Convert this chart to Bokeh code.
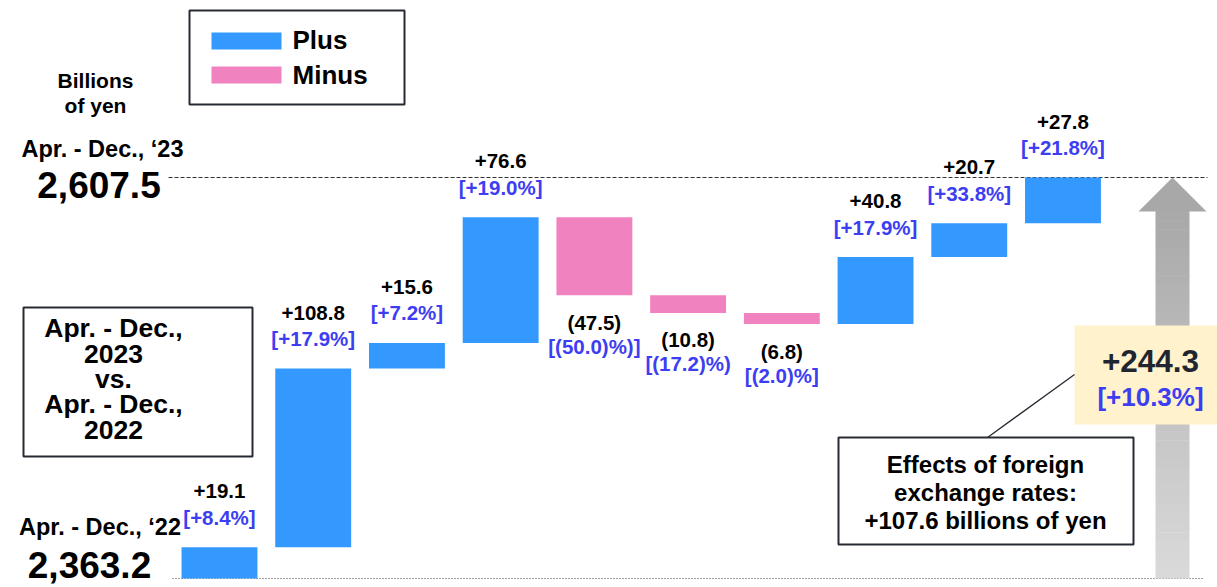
from bokeh.plotting import figure
from bokeh.models import Range1d, Label, ColumnDataSource
from bokeh.core.properties import value
from bokeh.embed import file_html
from bokeh.resources import INLINE

# ---------------- data ----------------
START_LABEL = "Apr. - Dec., \u201822"
END_LABEL = "Apr. - Dec., \u201823"
START_VALUE = 2363.2
CHANGES = [19.1, 108.8, 15.6, 76.6, -47.5, -10.8, -6.8, 40.8, 20.7, 27.8]
PCT_LABELS = ["[+8.4%]", "[+17.9%]", "[+7.2%]", "[+19.0%]", "[(50.0)%)]",
              "[(17.2)%)", "[(2.0)%]", "[+17.9%]", "[+33.8%]", "[+21.8%]"]
FX_EFFECT = 107.6
LEGEND_LABELS = ["Plus", "Minus"]
UNIT_LABEL = ["Billions", "of yen"]
COMPARE_LABEL = ["Apr. - Dec.,", "2023", "vs.", "Apr. - Dec.,", "2022"]

# ---------------- styles ----------------
BLUE = "#3399ff"
PINK = "#f082c0"
TXT_BLUE = "#3d3df2"
DARK = "#262b33"
FONT = "Liberation Sans"

W, H = 1217, 587
KX = 93.72          # px per category
KY = 1.6414         # px per billion yen

def vx(rx):
    return (rx - 219.0) / KX

def vy(ry):
    return 2607.5 - (ry - 177.0) / KY

XL, XR = vx(0), vx(W)
YT, YB = vy(0), vy(H)

# ---------------- derived ----------------
idx = list(range(len(CHANGES)))
bottoms, tops, colors, vlabels = [], [], [], []
cum = START_VALUE
for c in CHANGES:
    new = cum + c
    bottoms.append(min(cum, new))
    tops.append(max(cum, new))
    colors.append(BLUE if c >= 0 else PINK)
    vlabels.append(f"+{c:.1f}" if c >= 0 else f"({-c:.1f})")
    cum = new
END_VALUE = round(cum, 1)
TOTAL = END_VALUE - START_VALUE
TOTAL_PCT = TOTAL / START_VALUE * 100

val_y, pct_y = [], []
for c, b, t in zip(CHANGES, bottoms, tops):
    if c >= 0:
        val_y.append(t + 56 / KY)
        pct_y.append(t + 30 / KY)
    else:
        val_y.append(b - 27 / KY)
        pct_y.append(b - 51 / KY)

src = ColumnDataSource(dict(x=idx, bottom=bottoms, top=tops, color=colors,
                            vlab=vlabels, plab=PCT_LABELS, vy=val_y, py=pct_y))

p = figure(width=W, height=H, x_range=Range1d(XL, XR), y_range=Range1d(YB, YT),
           output_backend="svg", toolbar_location=None, min_border=0,
           x_axis_location=None, y_axis_location=None)
p.grid.visible = False
p.outline_line_color = None
p.background_fill_color = "white"
p.border_fill_color = "white"

# reference lines
p.segment(x0=[vx(168)], y0=[END_VALUE], x1=[vx(1207)], y1=[END_VALUE],
          line_color="#333333", line_width=1.2, line_dash="4 2")
p.segment(x0=[vx(172)], y0=[START_VALUE], x1=[vx(1203)], y1=[START_VALUE],
          line_color="#444444", line_width=1.2, line_dash="1 2")

# bars
p.vbar(x="x", bottom="bottom", top="top", width=0.81, fill_color="color",
       line_color=None, source=src)

# total arrow with gradient shaft
ax = vx(1172)
shaft_hw = 17 / KX
head_hw = 34 / KX
head_base = END_VALUE - 34 / KY
N = 40
sl, sr, st, sb, sc = [], [], [], [], []
for i in range(N):
    y0 = START_VALUE + (head_base - START_VALUE) * i / N
    y1 = START_VALUE + (head_base - START_VALUE) * (i + 1) / N
    f = (i + 0.5) / N
    g = int(round(218 + (168 - 218) * f))
    sl.append(ax - shaft_hw); sr.append(ax + shaft_hw)
    sb.append(y0); st.append(y1 + 0.3)
    sc.append("#%02x%02x%02x" % (g, g, g))
p.quad(left=sl, right=sr, bottom=sb, top=st, fill_color=sc, line_color=None)
p.patch(x=[ax - head_hw, ax, ax + head_hw], y=[head_base, END_VALUE, head_base],
        fill_color="#a8a8a8", line_color=None)

# total callout box
p.quad(left=[vx(1074)], right=[vx(1230)], top=[vy(325)], bottom=[vy(424)],
       fill_color="#fff2cc", line_color=None)
# leader line
p.segment(x0=[vx(987)], y0=[vy(437)], x1=[vx(1074)], y1=[vy(374)],
          line_color=DARK, line_width=1.3)
# FX effects box
p.quad(left=[vx(838)], right=[vx(1133)], top=[vy(437)], bottom=[vy(544)],
       fill_color="white", line_color=DARK, line_width=2)
# compare box
p.quad(left=[vx(23)], right=[vx(252)], top=[vy(307)], bottom=[vy(456)],
       fill_color="white", line_color=DARK, line_width=2)
# legend box
p.quad(left=[vx(189)], right=[vx(404)], top=[vy(10)], bottom=[vy(104)],
       fill_color="white", line_color=DARK, line_width=2)
p.quad(left=[vx(211), vx(211)], right=[vx(281), vx(281)],
       top=[vy(32), vy(66)], bottom=[vy(49), vy(83)],
       fill_color=[BLUE, PINK], line_color=None)

# bar labels
p.text(x="x", y="vy", text="vlab", source=src, text_font=value(FONT),
       text_font_style="bold", text_font_size=value("20.5px"), text_color="black",
       text_align="center", text_baseline="middle")
p.text(x="x", y="py", text="plab", source=src, text_font=value(FONT),
       text_font_style="bold", text_font_size=value("20.5px"), text_color=TXT_BLUE,
       text_align="center", text_baseline="middle")


def lab(x, ry, text, size, color="black", align="center", baseline="alphabetic"):
    # ry: reference baseline in px; compensate Label's baseline placement
    if baseline == "alphabetic":
        ry = ry - 0.35 * size
    p.add_layout(Label(x=x, y=vy(ry), text=text, text_font=FONT, text_font_style="bold",
                       text_font_size=f"{size}px", text_color=color, text_align=align,
                       text_baseline=baseline))

# legend texts
lab(vx(292), 39, LEGEND_LABELS[0], 26, align="left", baseline="middle")
lab(vx(292), 74, LEGEND_LABELS[1], 26, align="left", baseline="middle")

# unit
lab(vx(95), 87, UNIT_LABEL[0], 21)
lab(vx(95), 112, UNIT_LABEL[1], 21)

# end / start labels
lab(vx(102), 157, END_LABEL, 23.5)
lab(vx(98.5), 197, f"{END_VALUE:,.1f}", 37)
lab(vx(99.5), 535, START_LABEL, 23.5)
lab(vx(89), 577, f"{START_VALUE:,.1f}", 37)

# compare box text
for t, ry in zip(COMPARE_LABEL, [337, 363, 388, 413, 439]):
    lab(vx(113), ry, t, 26.5)

# total callout text
lab(vx(1150), 372, f"+{TOTAL:.1f}", 31.5, color="#1f2630")
lab(vx(1150), 406, f"[+{TOTAL_PCT:.1f}%]", 26, color=TXT_BLUE)

# FX effect text
for t, ry in zip(["Effects of foreign", "exchange rates:",
                  f"+{FX_EFFECT:.1f} billions of yen"], [472, 500, 528]):
    lab(vx(985), ry, t, 24)

open("out.html", "w").write(file_html(p, INLINE))
